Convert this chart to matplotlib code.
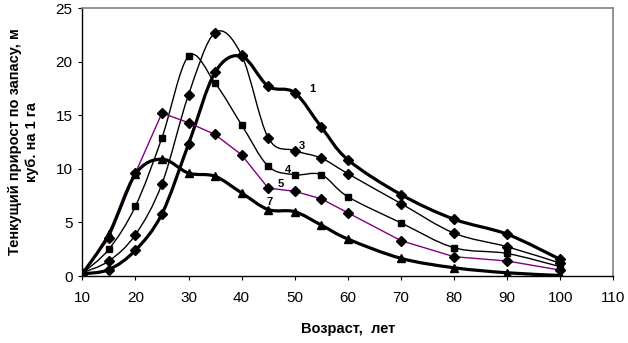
import numpy as np
import matplotlib
matplotlib.use("Agg")
import matplotlib.pyplot as plt
from matplotlib.path import Path
from matplotlib.patches import PathPatch

plt.rcParams['font.family'] = ['Liberation Sans', 'DejaVu Sans']

age = [10, 15, 20, 25, 30, 35, 40, 45, 50, 55, 60, 70, 80, 90, 100]
s1 = [0.2, 0.6, 2.4, 5.8, 12.3, 19.0, 20.5, 17.7, 17.1, 13.9, 10.85, 7.6, 5.3, 3.9, 1.55]
s3 = [0.3, 1.4, 3.85, 8.6, 16.9, 22.7, 20.6, 12.9, 11.7, 11.0, 9.55, 6.76, 4.0, 2.73, 1.2]
s4 = [0.25, 2.5, 6.5, 12.9, 20.5, 18.0, 14.1, 10.25, 9.45, 9.45, 7.4, 4.96, 2.64, 2.1, 0.87]
s5 = [0.2, 3.5, 9.6, 15.2, 14.3, 13.2, 11.3, 8.2, 7.9, 7.2, 5.9, 3.3, 1.8, 1.4, 0.55]
s7 = [0.2, 3.9, 9.5, 10.9, 9.6, 9.3, 7.75, 6.2, 6.0, 4.75, 3.45, 1.65, 0.77, 0.3, 0.05]
labels = ["1", "3", "4", "5", "7"]
label_pos = [(53.3, 17.4), (51.4, 12.1), (48.8, 9.9), (47.4, 8.6), (45.2, 6.9)]

xticks = [10, 20, 30, 40, 50, 60, 70, 80, 90, 100, 110]
yticks = [0, 5, 10, 15, 20, 25]


def smooth_path(x, y):
    """Excel-like smoothed line as cubic Bezier segments through the points."""
    x = np.asarray(x, float)
    y = np.asarray(y, float)
    n = len(x)
    verts = [(x[0], y[0])]
    codes = [Path.MOVETO]
    for i in range(n - 1):
        xm, ym = (x[i - 1], y[i - 1]) if i > 0 else (x[i], y[i])
        xp, yp = (x[i + 2], y[i + 2]) if i + 2 < n else (x[i + 1], y[i + 1])
        c1 = (x[i] + (x[i + 1] - xm) / 6, y[i] + (y[i + 1] - ym) / 6)
        c2 = (x[i + 1] - (xp - x[i]) / 6, y[i + 1] - (yp - y[i]) / 6)
        verts += [c1, c2, (x[i + 1], y[i + 1])]
        codes += [Path.CURVE4] * 3
    return Path(verts, codes)


fig = plt.figure(figsize=(6.28, 3.43), dpi=100)
ax = fig.add_axes([82.3 / 628, (343 - 276) / 343, (613.3 - 82.3) / 628, (276 - 8) / 343])

series = [
    (s1, 'D', 2.3, 'black', True),
    (s3, 'D', 1.0, 'black', True),
    (s4, 's', 1.0, 'black', True),
    (s5, 'D', 1.0, '#800080', False),
    (s7, '^', 2.3, 'black', True),
]
for vals, mk, lw, col, smooth in series:
    if smooth:
        ax.add_patch(PathPatch(smooth_path(age, vals), facecolor='none',
                               edgecolor=col, lw=lw, zorder=2))
    else:
        ax.plot(age, vals, color=col, lw=lw, zorder=2)
    ax.plot(age, vals, linestyle='none', marker=mk, markersize=5 if mk != '^' else 6,
            color='black', zorder=3)

for lab, (lx, ly) in zip(labels, label_pos):
    ax.text(lx, ly, lab, fontsize=8, fontweight='bold', ha='center', va='center')

ax.set_xlim(10, 110)
ax.set_ylim(0, 25)
ax.set_xticks(xticks)
ax.set_yticks(yticks)
ax.tick_params(axis='both', labelsize=11, direction='out', length=3, width=0.8)
ax.tick_params(axis='x', pad=8)
ax.tick_params(axis='y', pad=4)
for s in ['left', 'bottom']:
    ax.spines[s].set_color('black')
    ax.spines[s].set_linewidth(1.0)
for s in ['top', 'right']:
    ax.spines[s].set_color('#808080')
    ax.spines[s].set_linewidth(1.2)

ax.set_xlabel('Возраст,  лет', fontsize=10.5, fontweight='bold', labelpad=12)
ax.set_ylabel('Тенкущий прирост по запасу, м\nкуб. на 1 га', fontsize=10.5,
              fontweight='bold', labelpad=12, linespacing=1.3)

fig.savefig('out.png', dpi=100)
